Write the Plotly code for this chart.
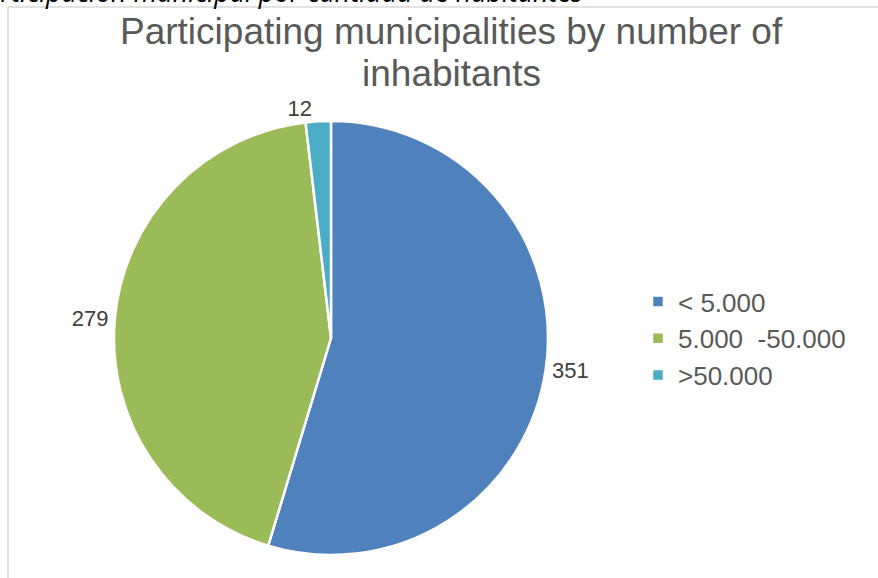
import plotly.graph_objects as go

categories = ["< 5.000", "5.000  -50.000", ">50.000"]
values = [351, 279, 12]
colors = ["#4F81BD", "#9BBB59", "#4BACC6"]
title_lines = ["Participating municipalities by number of", "inhabitants"]
caption = "Participación municipal por cantidad de habitantes"

W, H = 878, 578
cx, cy, r = 331, 338, 217
title_font = dict(family="Liberation Sans, Arial", size=37, color="#595959")

fig = go.Figure(go.Pie(
    labels=categories,
    values=values,
    sort=False,
    direction="clockwise",
    rotation=0,
    marker=dict(colors=colors, line=dict(color="white", width=2.5)),
    textinfo="value",
    textposition="outside",
    outsidetextfont=dict(family="Liberation Sans, Arial", size=22, color="#404040"),
    domain=dict(x=[(cx - r) / W, (cx + r) / W], y=[(H - cy - r) / H, (H - cy + r) / H]),
    hoverinfo="label+value",
))

fig.update_layout(
    width=W, height=H,
    margin=dict(l=0, r=0, t=0, b=0),
    paper_bgcolor="white",
    showlegend=True,
    legend=dict(
        x=638 / W, y=1 - 278 / H, xanchor="left", yanchor="top",
        font=dict(family="Liberation Sans, Arial", size=26, color="#595959"),
        itemwidth=30, tracegroupgap=0,
    ),
    shapes=[dict(type="rect", xref="paper", yref="paper",
                 x0=8 / W, x1=1.01, y0=-0.01, y1=1 - 7 / H,
                 line=dict(color="#D9D9D9", width=1.5), fillcolor="rgba(0,0,0,0)")],
    annotations=[
        dict(text=title_lines[0],
             xref="paper", yref="paper", x=451 / W, y=1 - 32 / H,
             xanchor="center", yanchor="middle", showarrow=False, font=title_font),
        dict(text=title_lines[1],
             xref="paper", yref="paper", x=451 / W, y=1 - 73 / H,
             xanchor="center", yanchor="middle", showarrow=False, font=title_font),
        dict(text="<i>" + caption + "</i>",
             xref="paper", yref="paper", x=585 / W, y=1 + 9 / H,
             xanchor="right", yanchor="middle", showarrow=False,
             font=dict(family="Open Sans", size=27, color="#000000")),
    ],
)

fig.write_html("out.html", post_script="document.body.style.margin='0px';",
               config={"displayModeBar": False})
